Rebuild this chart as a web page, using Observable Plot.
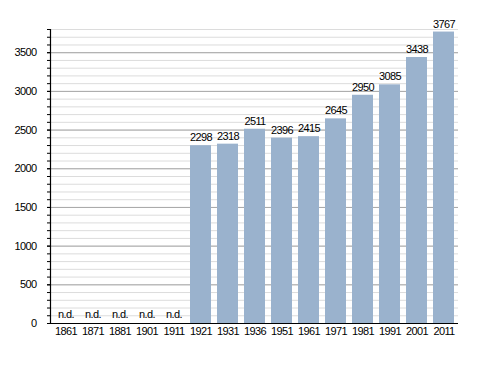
<!DOCTYPE html>
<html>
<head>
<meta charset="utf-8">
<script src="https://cdn.jsdelivr.net/npm/d3@7"></script>
<script src="https://cdn.jsdelivr.net/npm/@observablehq/plot@0.6"></script>
<style>
  html, body { margin: 0; padding: 0; background: #fff; }
  svg { display: block; }
  svg text { letter-spacing: -0.6px; }
</style>
</head>
<body>
<div id="chart"></div>
<script>
const years = ["1861","1871","1881","1901","1911","1921","1931","1936","1951","1961","1971","1981","1991","2001","2011"];
const population = [null,null,null,null,null,2298,2318,2511,2396,2415,2645,2950,3085,3438,3767];
const noDataLabel = "n.d.";
const majorTicks = [0,500,1000,1500,2000,2500,3000,3500];
const minorTicks = d3.range(0, 3801, 100);

const data = years.map((year, i) => ({year, value: population[i]}));
const withData = data.filter(d => d.value != null);
const noData = data.filter(d => d.value == null);

const chart = Plot.plot({
  width: 488,
  height: 373,
  marginLeft: 50,
  marginRight: 30,
  marginTop: 29,
  marginBottom: 50,
  style: {fontFamily: "'Liberation Sans', Arial, sans-serif", fontSize: "11px", color: "#000", background: "#fff"},
  x: {domain: years, paddingInner: 0.24, paddingOuter: 0, label: null},
  y: {domain: [0, 3800], label: null},
  marks: [
    Plot.gridY(minorTicks, {stroke: "#dcdcdc", strokeOpacity: 1}),
    Plot.gridY(majorTicks, {stroke: "#a8a8a8", strokeOpacity: 1}),
    Plot.barY(withData, {x: "year", y: "value", fill: "#9ab2cd"}),
    Plot.text(withData, {x: "year", y: "value", text: d => String(d.value), dy: -8, fontSize: 11, fill: "#000"}),
    Plot.text(noData, {x: "year", y: () => 0, text: () => noDataLabel, dy: -9, fontSize: 11, fill: "#000"}),
    Plot.axisY(minorTicks, {tickSize: 3, tickFormat: () => "", stroke: "#000"}),
    Plot.axisY(majorTicks, {tickSize: 3, tickPadding: 11, tickFormat: d => String(d), stroke: "#000", fill: "#000", fontSize: 11}),
    Plot.axisX({tickSize: 0, tickPadding: 4, fill: "#000", fontSize: 11}),
    Plot.ruleY([0], {stroke: "#000", strokeWidth: 1.2}),
    Plot.frame({anchor: "left", stroke: "#000", strokeWidth: 1.2})
  ]
});
document.getElementById("chart").appendChild(chart);
</script>
</body>
</html>
